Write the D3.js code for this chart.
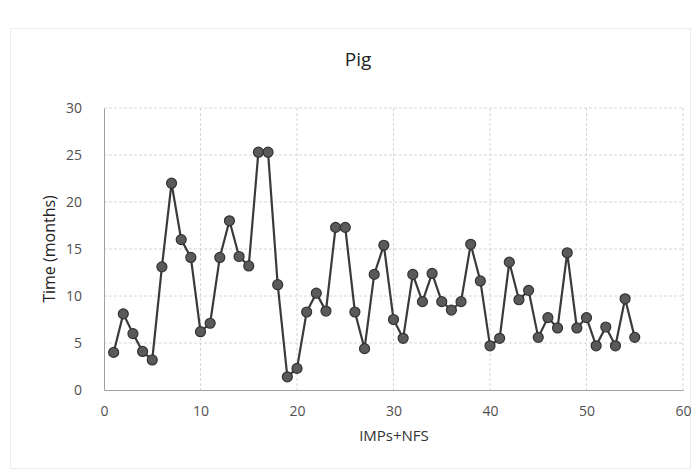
<!DOCTYPE html>
<html>
<head>
<meta charset="utf-8">
<script src="https://cdn.jsdelivr.net/npm/d3@7"></script>
<style>
  html, body { margin: 0; padding: 0; background: #fff; }
  svg { display: block; }
  text { font-family: "Open Sans", "Liberation Sans", sans-serif; }
</style>
</head>
<body>
<svg id="chart" width="700" height="473"></svg>
<script>
// Data
const chartTitle = "Pig";
const xTitle = "IMPs+NFS";
const yTitle = "Time (months)";
const xValues = [1,2,3,4,5,6,7,8,9,10,11,12,13,14,15,16,17,18,19,20,
                 21,22,23,24,25,26,27,28,29,30,31,32,33,34,35,36,37,38,39,40,
                 41,42,43,44,45,46,47,48,49,50,51,52,53,54,55];
const yValues = [4.0,8.1,6.0,4.1,3.2,13.1,22.0,16.0,14.1,6.2,
                 7.1,14.1,18.0,14.2,13.2,25.3,25.3,11.2,1.4,2.3,
                 8.3,10.3,8.4,17.3,17.3,8.3,4.4,12.3,15.4,7.5,
                 5.5,12.3,9.4,12.4,9.4,8.5,9.4,15.5,11.6,4.7,
                 5.5,13.6,9.6,10.6,5.6,7.7,6.6,14.6,6.6,7.7,
                 4.7,6.7,4.7,9.7,5.6];
const xTicks = [0,10,20,30,40,50,60];
const yTicks = [0,5,10,15,20,25,30];

const svg = d3.select("#chart");
const W = 700, H = 473;
const plot = {left: 104, right: 683, top: 108, bottom: 390};

// faint outer chart border
svg.append("rect")
  .attr("x", 10.5).attr("y", 28.5).attr("width", 680).attr("height", 440)
  .attr("fill", "none").attr("stroke", "#ececec").attr("stroke-width", 1);

const x = d3.scaleLinear().domain([0, 60]).range([plot.left, plot.right]);
const y = d3.scaleLinear().domain([0, 30]).range([plot.bottom, plot.top]);

// gridlines
const grid = svg.append("g");
grid.selectAll("line.h").data(yTicks.filter(d => d > 0)).enter().append("line")
  .attr("x1", plot.left).attr("x2", plot.right)
  .attr("y1", d => y(d)).attr("y2", d => y(d))
  .attr("stroke", "#d6d6d6").attr("stroke-width", 1).attr("stroke-dasharray", "3,2");
grid.selectAll("line.v").data(xTicks.filter(d => d > 0)).enter().append("line")
  .attr("y1", plot.top).attr("y2", plot.bottom)
  .attr("x1", d => x(d)).attr("x2", d => x(d))
  .attr("stroke", "#d6d6d6").attr("stroke-width", 1).attr("stroke-dasharray", "3,2");

// axes
const xAxis = svg.append("g").attr("transform", `translate(0,${plot.bottom})`)
  .call(d3.axisBottom(x).tickValues(xTicks).tickSize(0).tickPadding(16));
const yAxis = svg.append("g").attr("transform", `translate(${plot.left},0)`)
  .call(d3.axisLeft(y).tickValues(yTicks).tickSize(0).tickPadding(22));
[xAxis, yAxis].forEach(a => {
  a.select(".domain").attr("stroke", "#a0a0a0").attr("stroke-width", 1);
  a.selectAll("text").attr("fill", "#505050").style("font-size", "14px")
    .style("font-family", "'Open Sans', 'Liberation Sans', sans-serif");
});

// line
const line = d3.line().x((d, i) => x(xValues[i])).y(d => y(d));
svg.append("path").datum(yValues)
  .attr("d", line).attr("fill", "none")
  .attr("stroke", "#3a3a3a").attr("stroke-width", 2.2);

// markers
svg.append("g").selectAll("circle").data(yValues).enter().append("circle")
  .attr("cx", (d, i) => x(xValues[i])).attr("cy", d => y(d)).attr("r", 5)
  .attr("fill", "#5a5a5a").attr("stroke", "#333").attr("stroke-width", 1.2);

// titles
svg.append("text").attr("x", 358).attr("y", 66).attr("text-anchor", "middle")
  .style("font-size", "19px").attr("fill", "#222").text(chartTitle);
svg.append("text").attr("x", 394).attr("y", 441).attr("text-anchor", "middle")
  .style("font-size", "15px").attr("fill", "#333").text(xTitle);
svg.append("text").attr("transform", "translate(55,249) rotate(-90)")
  .attr("text-anchor", "middle")
  .style("font-size", "16px").attr("fill", "#222").text(yTitle);
</script>
</body>
</html>
